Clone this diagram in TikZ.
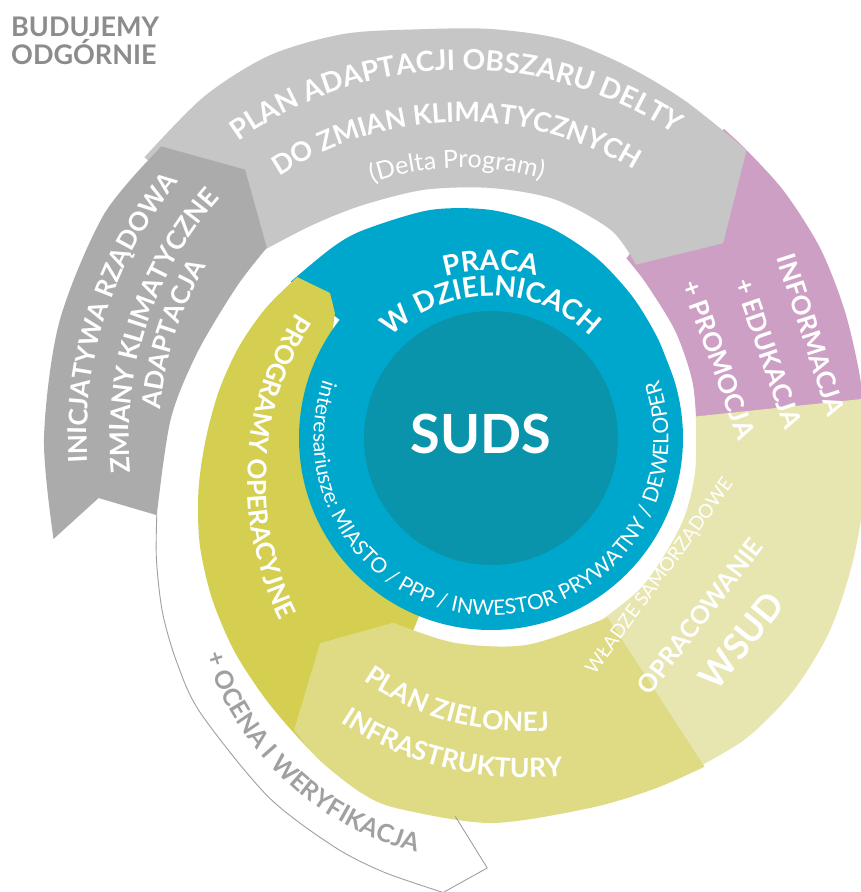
\documentclass[tikz,border=0pt]{standalone}
\usepackage{fontspec}
\setmainfont{Lato}
\usetikzlibrary{decorations.text}
\definecolor{cblue}{HTML}{00A7CC}
\definecolor{cteal}{HTML}{0A94AC}
\definecolor{cgreyd}{HTML}{ABABAB}
\definecolor{cgreyl}{HTML}{C6C6C6}
\definecolor{cpink}{HTML}{CE9FC4}
\definecolor{cwsud}{HTML}{E8E6B0}
\definecolor{czielona}{HTML}{DEDB84}
\definecolor{cprog}{HTML}{D4CF50}
\definecolor{ctitle}{HTML}{8C8C8C}
\definecolor{cocena}{HTML}{A0A0A0}
\newcommand{\myB}[1]{\bfseries\fontsize{#1}{#1}\selectfont}
\newcommand{\myR}[1]{\fontsize{#1}{#1}\selectfont}
\tikzset{
  curv/.style={decorate, decoration={text along path, text align=center, text color=white, text={#1}}},
  curvgrey/.style={decorate, decoration={text along path, text align=center, text color=cocena, text={#1}}},
  flat/.style={text=white, inner sep=0pt},
  titletext/.style={anchor=base west, text=ctitle, font=\myB{27}, inner sep=0pt},
}
\begin{document}
\begin{tikzpicture}[x=1pt,y=1pt]
\fill[white] (-491,-454) rectangle (369,438);
\useasboundingbox (-491,-454) rectangle (369,438);

% outer turn
\fill[cpink] plot[smooth] coordinates {(53:387) (48.4:385) (40:383) (30:380) (20:376) (10:374) (1.5:375)}
  -- (-10.3:292) -- plot[smooth] coordinates {(-0.6:206) (15:209) (30:213) (45:219) (53:225)} -- cycle;
\fill[cgreyl] plot[smooth] coordinates {(141:446) (130:446) (120:442) (110:430) (100:415) (90:409) (80:405) (70:396) (60:389) (48.4:385)}
  -- (40:303) -- plot[smooth] coordinates {(50.1:226) (60:240) (75:247) (90:250) (105:257) (119:266) (130:278) (141:296)} -- cycle;
\fill[cgreyd] plot[smooth] coordinates {(193:449) (180:447) (165:447) (150:447) (138.5:440)}
  -- (132.5:364) -- plot[smooth] coordinates {(139.7:294) (149.3:296) (163.9:306) (176.8:321) (193:343)}
  -- (188.7:397) -- cycle;

% inner turn
\fill[cblue] plot[smooth] coordinates {(142:254) (130:248) (121.6:244) (105:236) (90:228) (75:219) (60:209) (45:200) (30:194) (15:192)}
  -- (15:180) arc[start angle=15, end angle=142, radius=180pt] -- cycle;
\fill[cprog] plot[smooth] coordinates {(-112:374) (-120:361) (-130:346) (-140:334) (-150:322) (-160:310) (-170:297) (-180:285) (170:276) (160:268) (150:260) (140.3:252)}
  -- (138:216.7) -- (141.3:200) -- (150:185) arc[start angle=150, end angle=248, radius=185pt] -- cycle;
\fill[cwsud] plot[smooth] coordinates {(6:375) (0:375) (-10:378) (-20:383) (-30:390) (-40:394) (-50:394) (-61.4:388)}
  -- (-72.1:299.5) -- plot[smooth] coordinates {(-64.7:215.6) (-45:212) (-25:209) (-10:207) (6:206)} -- cycle;
\fill[czielona] plot[smooth] coordinates {(-57:392) (-65:387) (-75:383) (-90:385) (-104:382) (-110:378) (-118:365) (-124:352)}
  -- (-129.8:267) -- plot[smooth] coordinates {(-117.9:209) (-100:208) (-80:210) (-57:214)} -- cycle;
\fill[cblue] (0,0) circle[radius=192pt];
\fill[cteal] (0,0) circle[radius=127pt];

% evaluation arrow outline
\draw[cocena, line width=0.9pt, line join=round] plot[smooth] coordinates {(193:343) (200:356) (208:372) (215.5:386) (223.4:400) (238:422) (248.8:437.5) (256:447) (264:457)}
  -- (269.5:430) -- (264.6:380);

% title
\node[titletext] (title1) at (-480,401) {BUDUJEMY};
\node[titletext] (title2) at (-480,373) {ODGÓRNIE};

% grey band texts
\path[curv={|\myB{26}|INICJATYWA RZĄDOWA}] (200:404pt) arc[start angle=200, end angle=124, radius=404pt];
\path[curv={|\myB{26.5}|ZMIANY KLIMATYCZNE}] (200:362pt) arc[start angle=200, end angle=124, radius=362pt];
\path[curv={|\myB{26}|ADAPTACJA}] (200:332pt) arc[start angle=200, end angle=124, radius=332pt];

% top band texts
\begin{scope}[shift={(-29pt,-17pt)}]
\path[curv={|\myB{28}|PLAN ADAPTACJI OBSZARU DELTY}] (150:385pt) arc[start angle=150, end angle=32, radius=385pt];
\path[curv={|\myB{27}|DO ZMIAN KLIMATYCZNYCH}] (150:333pt) arc[start angle=150, end angle=32, radius=333pt];
\path[curv={|\myR{25}|(Delta Program)}] (150:287pt) arc[start angle=150, end angle=32, radius=287pt];
\end{scope}

% pink band
\node[flat, rotate=-72, font=\myB{26}] (inf) at (320.5,103) {INFORMACJA};
\node[flat, rotate=-71, font=\myB{26}] (edu) at (277.5,84.5) {+ EDUKACJA};
\node[flat, rotate=-70, font=\myB{26}] (promo) at (228,78.5) {+ PROMOCJA};

% WSUD band
\node[flat, rotate=54, font=\myR{19}] (wladze) at (169,-138.5) {WŁADZE SAMORZĄDOWE};
\node[flat, rotate=52.4, font=\myB{25}] (oprac) at (209,-178) {OPRACOWANIE};
\node[flat, rotate=51.3, font=\myB{36}] (wsud) at (250.5,-202.5) {WSUD};

% green infrastructure
\path[curv={|\myB{26.5}|PLAN ZIELONEJ}] plot[domain=-132:-66, samples=60, variable=\t] ({\t}:{286+0.62*(\t+99)});
\path[curv={|\myB{26.5}|INFRASTRUKTURY}] plot[domain=-132:-65, samples=60, variable=\t] ({\t}:{333+0.6*(\t+98.5)});

% programmes
\path[curv={|\myB{26}|PROGRAMY OPERACYJNE}] plot[domain=125:238, samples=80, variable=\t] ({\t}:{243+0.6476*(\t-184)+0.008738*(\t-184)*(\t-184)});

% evaluation
\path[curvgrey={|\myB{25}|+ OCENA I WERYFIKACJA}] plot[domain=-160:-85, samples=60, variable=\t] ({\t}:{394.5+1.6275*(\t+124.4)-0.02159*(\t+124.4)*(\t+124.4)});

% blue ring
\path[curv={|\myB{28}|PRACA}] (150:168pt) arc[start angle=150, end angle=30, radius=168pt];
\path[curv={|\myB{28}|W DZIELNICACH}] (160:142pt) arc[start angle=160, end angle=20, radius=142pt];
\path[curv={|\myR{21}|interesariusze: MIASTO / PPP / INWESTOR PRYWATNY / DEWELOPER}] (140:177.5pt) arc[start angle=140, end angle=400, radius=177.5pt];

\node[flat, font=\myB{54}] (suds) at (-10,4) {SUDS};
\end{tikzpicture}
\end{document}
